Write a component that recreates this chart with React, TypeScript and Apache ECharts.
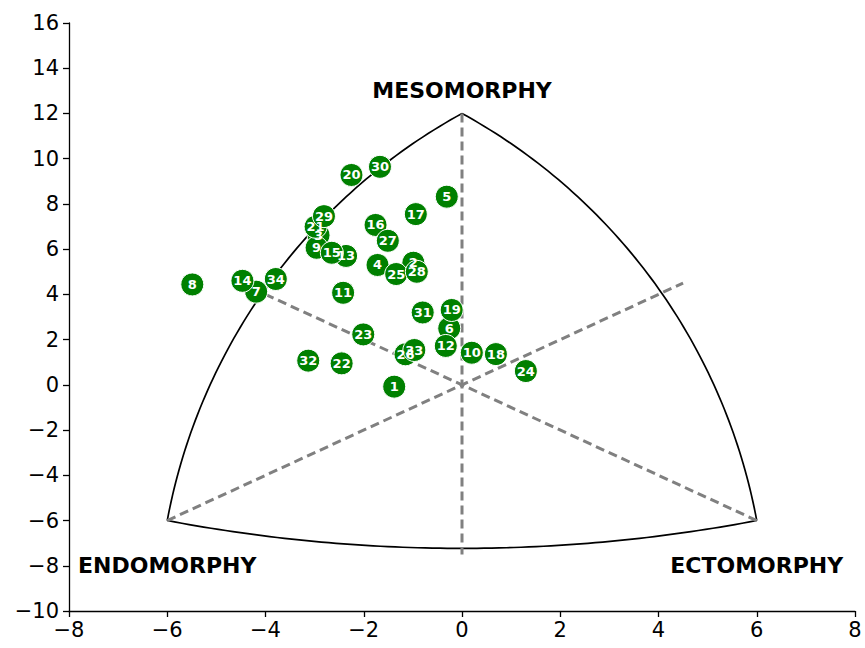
import React, { useEffect, useRef } from "react";
import * as echarts from "echarts";

// Subject numbers and their somatochart coordinates (X, Y)
const POINT_IDS = [1, 2, 3, 4, 5, 6, 7, 8, 9, 10, 11, 12, 13, 14, 15, 16, 17, 18, 19, 20, 21, 22, 23, 24, 25, 26, 27, 28, 29, 30, 31, 32, 33, 34];
const POINT_X = [-1.38, -0.99, -2.92, -1.72, -0.31, -0.26, -4.19, -5.49, -2.96, 0.2, -2.42, -0.33, -2.36, -4.47, -2.65, -1.76, -0.94, 0.69, -0.21, -2.25, -2.98, -2.45, -2.01, 1.3, -1.34, -1.15, -1.51, -0.92, -2.81, -1.67, -0.8, -3.13, -0.97, -3.79];
const POINT_Y = [-0.08, 5.4, 6.62, 5.3, 8.32, 2.5, 4.12, 4.44, 6.06, 1.42, 4.07, 1.72, 5.7, 4.6, 5.84, 7.07, 7.55, 1.36, 3.31, 9.28, 6.99, 0.95, 2.23, 0.61, 4.9, 1.35, 6.37, 5.0, 7.46, 9.64, 3.2, 1.07, 1.54, 4.68];

// Somatochart frame: vertices and a point on each curved side
const VERTEX_MESO = [0, 12];
const VERTEX_ENDO = [-6, -6];
const VERTEX_ECTO = [6, -6];
const ARC_MID_LEFT = [-3.93, 4.47];
const ARC_MID_RIGHT = [3.93, 4.47];
const ARC_MID_BOTTOM = [0, -7.23];

// Dashed reference lines [from, to]
const DASH_LINES = [
  [[0, 12], [0, -7.5]],
  [[-6, -6], [4.5, 4.5]],
  [[6, -6], [-4.5, 4.5]],
];

// Vertex labels
const AXIS_NAMES = ["MESOMORPHY", "ENDOMORPHY", "ECTOMORPHY"];
const AXIS_NAME_POS = [[0, 13], [-6, -8], [6, -8]];

const FONT = "DejaVu Sans";

function arcPoints(p1: number[], pm: number[], p3: number[], n: number) {
  const [x1, y1] = p1;
  const [x2, y2] = pm;
  const [x3, y3] = p3;
  const d = 2 * (x1 * (y2 - y3) + x2 * (y3 - y1) + x3 * (y1 - y2));
  const s1 = x1 * x1 + y1 * y1;
  const s2 = x2 * x2 + y2 * y2;
  const s3 = x3 * x3 + y3 * y3;
  const ux = (s1 * (y2 - y3) + s2 * (y3 - y1) + s3 * (y1 - y2)) / d;
  const uy = (s1 * (x3 - x2) + s2 * (x1 - x3) + s3 * (x2 - x1)) / d;
  const r = Math.hypot(x1 - ux, y1 - uy);
  const a1 = Math.atan2(y1 - uy, x1 - ux);
  const a3 = Math.atan2(y3 - uy, x3 - ux);
  let s = a3 - a1;
  while (s > Math.PI) s -= 2 * Math.PI;
  while (s <= -Math.PI) s += 2 * Math.PI;
  const pts: number[][] = [];
  for (let i = 0; i <= n; i++) {
    const a = a1 + (s * i) / n;
    pts.push([ux + r * Math.cos(a), uy + r * Math.sin(a)]);
  }
  return pts;
}

const tickFormatter = (v: number) => (v < 0 ? "\u2212" + Math.abs(v) : String(v));

export default function App() {
  const ref = useRef<HTMLDivElement>(null);

  useEffect(() => {
    if (!ref.current) return;
    const chart = echarts.init(ref.current, null, { renderer: "svg" });

    const points = POINT_IDS.map((id, i) => [POINT_X[i], POINT_Y[i], id]);
    const names = AXIS_NAMES.map((n, i) => ({ name: n, value: AXIS_NAME_POS[i] }));

    const renderFrame = (params: any, api: any) => {
      const meso = api.coord(VERTEX_MESO);
      const endo = api.coord(VERTEX_ENDO);
      const ecto = api.coord(VERTEX_ECTO);
      const arcs = [
        arcPoints(endo, api.coord(ARC_MID_LEFT), meso, 80),
        arcPoints(meso, api.coord(ARC_MID_RIGHT), ecto, 80),
        arcPoints(endo, api.coord(ARC_MID_BOTTOM), ecto, 80),
      ];
      const children: any[] = arcs.map((pts) => ({
        type: "polyline",
        shape: { points: pts },
        style: { stroke: "#000", lineWidth: 1.7, fill: null },
      }));
      DASH_LINES.forEach(([a, b]) => {
        const pa = api.coord(a);
        const pb = api.coord(b);
        children.push({
          type: "line",
          shape: { x1: pa[0], y1: pa[1], x2: pb[0], y2: pb[1] },
          style: { stroke: "#808080", lineWidth: 3, lineDash: [9, 5] },
        });
      });
      return { type: "group", children };
    };

    const axisCommon = {
      type: "value",
      splitLine: { show: false },
      axisLine: { show: true, onZero: false, lineStyle: { color: "#000", width: 1.3 } },
      axisTick: { show: true, length: 6, lineStyle: { color: "#000", width: 1.3 } },
    };

    chart.setOption({
      animation: false,
      backgroundColor: "#fff",
      grid: { left: 69, right: 10, top: 23, bottom: 37, containLabel: false },
      xAxis: {
        ...axisCommon,
        min: -8,
        max: 8,
        interval: 2,
        axisLabel: { color: "#000", fontSize: 21, fontFamily: FONT, margin: 8, formatter: tickFormatter },
      },
      yAxis: {
        ...axisCommon,
        min: -10,
        max: 16,
        interval: 2,
        axisLabel: { color: "#000", fontSize: 21, fontFamily: FONT, margin: 10, formatter: tickFormatter },
      },
      series: [
        {
          type: "custom",
          renderItem: renderFrame,
          data: [[0, 0]],
          clip: false,
          silent: true,
          z: 1,
        },
        {
          type: "scatter",
          data: names,
          symbolSize: 0,
          silent: true,
          z: 2,
          itemStyle: { opacity: 1 },
          label: {
            show: true,
            position: "inside",
            formatter: (p: any) => p.name,
            color: "#000",
            opacity: 1,
            fontWeight: "bold",
            fontSize: 22,
            fontFamily: FONT,
          },
        },
        {
          type: "scatter",
          data: points,
          symbol: "circle",
          symbolSize: 23,
          z: 5,
          itemStyle: { color: "#008000", borderColor: "#ffffff", borderWidth: 1, opacity: 1 },
          label: {
            show: true,
            position: "inside",
            formatter: (p: any) => String(p.value[2]),
            color: "#fff",
            fontWeight: "bold",
            fontSize: 13,
            fontFamily: FONT,
          },
        },
      ],
    });

    return () => chart.dispose();
  }, []);

  return (
    <div
      ref={ref}
      style={{ position: "fixed", left: 0, top: 0, width: 865, height: 648 }}
    />
  );
}
